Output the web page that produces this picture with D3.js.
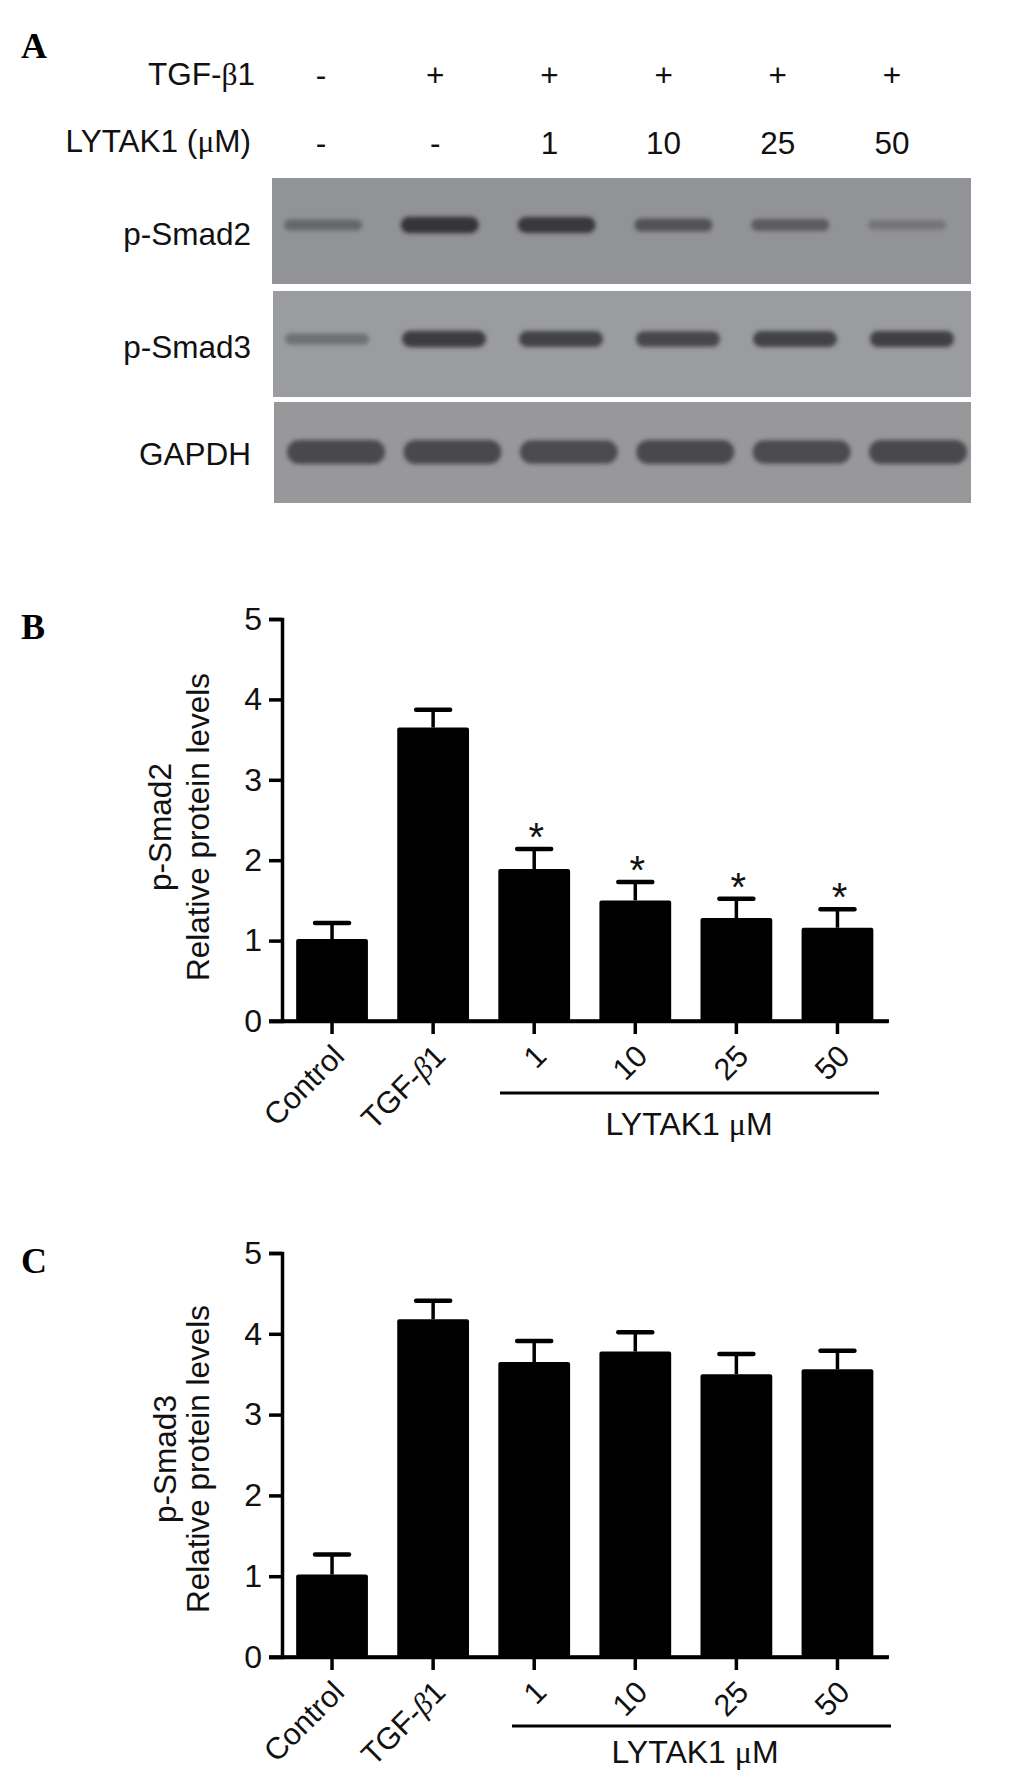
<!DOCTYPE html>
<html>
<head>
<meta charset="utf-8">
<script src="https://cdn.jsdelivr.net/npm/d3@7"></script>
<style>
body { margin: 0; background: #fff; }
text { font-family: "Liberation Sans", Arial, sans-serif; fill: #111; }
</style>
</head>
<body>
<div id="chart"></div>
<script>
const categories = ["Control", "TGF-β1", "1", "10", "25", "50"];
const yTicks = [0, 1, 2, 3, 4, 5];

const smad2Values = [1.02, 3.65, 1.89, 1.50, 1.28, 1.16];
const smad2Upper = [1.22, 3.87, 2.14, 1.73, 1.52, 1.39];
const smad2Stars = ["", "", "*", "*", "*", "*"];

const smad3Values = [1.02, 4.18, 3.65, 3.78, 3.50, 3.56];
const smad3Upper = [1.27, 4.41, 3.91, 4.02, 3.75, 3.79];
const smad3Stars = ["", "", "", "", "", ""];

const tgfRow = ["-", "+", "+", "+", "+", "+"];
const lytakRow = ["-", "-", "1", "10", "25", "50"];

// band density on the blots, by eye
const smad2Bands = [0.45, 0.95, 0.9, 0.65, 0.55, 0.3];
const smad3Bands = [0.45, 0.95, 0.9, 0.85, 0.9, 0.92];
const gapdhBands = [1, 1, 0.95, 1, 0.95, 1];

const svg = d3.select("#chart").append("svg")
    .attr("width", 1033)
    .attr("height", 1771);

// beta and mu are set in a serif face in the figure
function greek(sel, italic) {
    sel.each(function() {
        const t = d3.select(this);
        const parts = t.text().split(/([βμ])/);
        t.text(null);
        parts.forEach(p => {
            const s = t.append("tspan").text(p);
            if (p === "β" || p === "μ") {
                s.style("font-family", "'Liberation Serif', serif");
                if (italic) s.style("font-style", "italic");
            }
        });
    });
}

function panelLetter(label, y) {
    svg.append("text")
        .attr("x", 21)
        .attr("y", y)
        .style("font-family", "'Liberation Serif', serif")
        .style("font-weight", "bold")
        .style("font-size", "36px")
        .style("fill", "#000")
        .text(label);
}

panelLetter("A", 58);
panelLetter("B", 639);
panelLetter("C", 1273);

// ---- panel A ----
const defs = svg.append("defs");
defs.append("filter").attr("id", "blur")
    .attr("x", "-30%").attr("y", "-80%").attr("width", "160%").attr("height", "260%")
    .append("feGaussianBlur").attr("stdDeviation", "2");

const rowScale = d3.scaleLinear().domain([0, 5]).range([321, 892]);

svg.append("text").attr("x", 255).attr("y", 85)
    .attr("text-anchor", "end").style("font-size", "31.5px")
    .text("TGF-β1").call(greek, false);
svg.append("text").attr("x", 251).attr("y", 152)
    .attr("text-anchor", "end").style("font-size", "31.5px")
    .text("LYTAK1 (μM)").call(greek, false);

svg.selectAll(".tgf").data(tgfRow).enter().append("text")
    .attr("class", "tgf")
    .attr("x", (d, i) => rowScale(i))
    .attr("y", 86)
    .attr("text-anchor", "middle")
    .style("font-size", "31.5px")
    .text(d => d);

svg.selectAll(".lytak").data(lytakRow).enter().append("text")
    .attr("class", "lytak")
    .attr("x", (d, i) => rowScale(i))
    .attr("y", 154)
    .attr("text-anchor", "middle")
    .style("font-size", "31.5px")
    .text(d => d);

function blot(name, bands, o) {
    const g = svg.append("g");
    g.append("rect")
        .attr("x", o.x0).attr("y", o.y0)
        .attr("width", 971 - o.x0).attr("height", o.y1 - o.y0)
        .attr("fill", o.bg);

    const lane = d3.scaleLinear().domain([0, 5]).range(o.lanes);
    const h = d3.scaleLinear().domain([0, 1]).range(o.heights);
    const dark = d3.scaleLinear().domain([0, 1]).range([o.bg, o.band]);

    g.selectAll("rect.band").data(bands).enter().append("rect")
        .attr("class", "band")
        .attr("x", (d, i) => lane(i) - o.bandWidth / 2)
        .attr("y", d => o.cy - h(d) / 2)
        .attr("width", o.bandWidth)
        .attr("height", d => h(d))
        .attr("rx", d => h(d) / 2)
        .attr("fill", d => dark(d))
        .attr("filter", "url(#blur)");

    svg.append("text")
        .attr("x", 251)
        .attr("y", o.labelY)
        .attr("text-anchor", "end")
        .style("font-size", "31.5px")
        .text(name);
}

blot("p-Smad2", smad2Bands, {
    x0: 272, y0: 178, y1: 284, bg: "#929396", band: "#2f2f33",
    lanes: [323, 907], cy: 225, bandWidth: 78, heights: [6, 17], labelY: 245
});
blot("p-Smad3", smad3Bands, {
    x0: 273, y0: 291, y1: 397, bg: "#9b9c9f", band: "#38383c",
    lanes: [327, 912], cy: 339, bandWidth: 84, heights: [6, 17], labelY: 358
});
blot("GAPDH", gapdhBands, {
    x0: 274, y0: 402, y1: 503, bg: "#98989b", band: "#48484c",
    lanes: [336, 918], cy: 452, bandWidth: 98, heights: [10, 24], labelY: 465
});

// ---- panels B and C ----
function barPanel(values, upper, stars, o) {
    const x = d3.scaleBand()
        .domain(categories)
        .range([281.5, 888])
        .paddingInner(0.29)
        .paddingOuter(0.145);

    const y = d3.scaleLinear()
        .domain([0, 5])
        .range([o.y0, o.y5]);

    const g = svg.append("g");
    const rows = categories.map((c, i) => ({ c, v: values[i], up: upper[i], star: stars[i] }));

    // error bars go first so the bar covers the stem
    g.selectAll(".stem").data(rows).enter().append("line")
        .attr("x1", d => x(d.c) + x.bandwidth() / 2)
        .attr("x2", d => x(d.c) + x.bandwidth() / 2)
        .attr("y1", d => y(d.v))
        .attr("y2", d => y(d.up))
        .attr("stroke", "#000")
        .attr("stroke-width", 3.5);

    g.selectAll(".cap").data(rows).enter().append("line")
        .attr("x1", d => x(d.c) + x.bandwidth() / 2 - 17)
        .attr("x2", d => x(d.c) + x.bandwidth() / 2 + 17)
        .attr("y1", d => y(d.up))
        .attr("y2", d => y(d.up))
        .attr("stroke", "#000")
        .attr("stroke-width", 4.5)
        .attr("stroke-linecap", "round");

    g.selectAll(".bar").data(rows).enter().append("rect")
        .attr("class", "bar")
        .attr("x", d => x(d.c))
        .attr("y", d => y(d.v))
        .attr("width", x.bandwidth())
        .attr("height", d => y(0) - y(d.v))
        .attr("rx", 2)
        .attr("fill", "#000");

    g.selectAll(".star").data(rows.filter(d => d.star)).enter().append("text")
        .attr("class", "star")
        .attr("x", d => x(d.c) + x.bandwidth() / 2 + 2)
        .attr("y", d => y(d.up) + 2)
        .attr("text-anchor", "middle")
        .style("font-size", "40px")
        .text(d => d.star);

    const yAxis = d3.axisLeft(y).tickValues(yTicks).tickSize(13).tickPadding(7).tickFormat(d3.format("d"));
    const yG = g.append("g").attr("transform", "translate(282,0)").call(yAxis);
    yG.select(".domain").attr("stroke", "#000").attr("stroke-width", 3.5);
    yG.selectAll("line").attr("stroke", "#000").attr("stroke-width", 3.5);
    yG.selectAll("text").style("font-size", "32px").style("font-family", "'Liberation Sans', sans-serif").attr("fill", "#111");

    const xAxis = d3.axisBottom(x).tickSize(13).tickSizeOuter(0);
    const xG = g.append("g").attr("transform", `translate(0,${o.y0})`).call(xAxis);
    xG.select(".domain").attr("stroke", "#000").attr("stroke-width", 3.5);
    xG.selectAll("line").attr("stroke", "#000").attr("stroke-width", 3.5);
    xG.selectAll("text")
        .attr("text-anchor", "end")
        .attr("dy", null)
        .attr("y", null)
        .attr("transform", "translate(14,37) rotate(-45)")
        .style("font-size", "30.5px")
        .style("font-family", "'Liberation Sans', sans-serif")
        .attr("fill", "#111")
        .call(greek, true);

    // axis line reaches back to the 0 tick on the y axis
    g.append("line")
        .attr("x1", 269).attr("x2", 889)
        .attr("y1", y(0)).attr("y2", y(0))
        .attr("stroke", "#000").attr("stroke-width", 3.5);

    g.append("text")
        .attr("transform", `translate(${o.nameX},${o.midY}) rotate(-90)`)
        .attr("text-anchor", "middle")
        .style("font-size", "31.5px")
        .text(o.name);
    g.append("text")
        .attr("transform", `translate(${o.titleX},${o.midY}) rotate(-90)`)
        .attr("text-anchor", "middle")
        .style("font-size", "31.5px")
        .text("Relative protein levels");

    g.append("line")
        .attr("x1", o.lineX[0]).attr("x2", o.lineX[1])
        .attr("y1", o.lineY).attr("y2", o.lineY)
        .attr("stroke", "#000").attr("stroke-width", 3);
    g.append("text")
        .attr("x", o.labelX)
        .attr("y", o.lineY + o.labelGap)
        .attr("text-anchor", "middle")
        .style("font-size", "32px")
        .text("LYTAK1 μM")
        .call(greek, false);
}

barPanel(smad2Values, smad2Upper, smad2Stars, {
    y0: 1021, y5: 619, name: "p-Smad2", nameX: 171, titleX: 209, midY: 827,
    lineX: [500, 879], lineY: 1093, labelX: 689, labelGap: 42
});
barPanel(smad3Values, smad3Upper, smad3Stars, {
    y0: 1657, y5: 1253, name: "p-Smad3", nameX: 176, titleX: 209, midY: 1459,
    lineX: [512, 891], lineY: 1726, labelX: 695, labelGap: 37
});
</script>
</body>
</html>
